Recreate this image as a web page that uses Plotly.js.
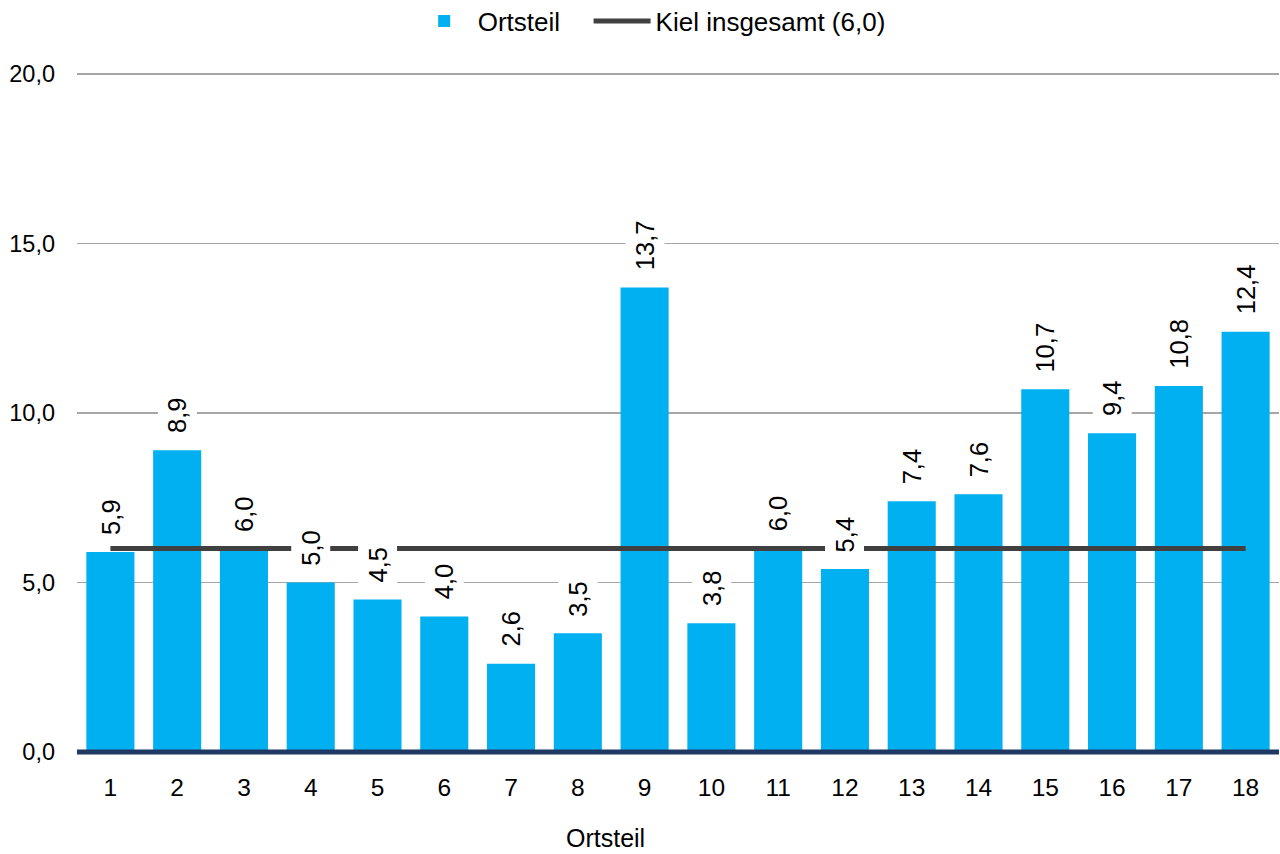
<!DOCTYPE html>
<html>
<head>
<meta charset="utf-8">
<script src="https://cdn.plot.ly/plotly-3.0.1.min.js"></script>
<style>html,body{margin:0;padding:0;background:#fff;}#chart{width:1280px;height:854px;}</style>
</head>
<body>
<div id="chart"></div>
<script>
const categories = ['1','2','3','4','5','6','7','8','9','10','11','12','13','14','15','16','17','18'];
const ortsteilValues = [5.9, 8.9, 6.0, 5.0, 4.5, 4.0, 2.6, 3.5, 13.7, 3.8, 6.0, 5.4, 7.4, 7.6, 10.7, 9.4, 10.8, 12.4];
const kielTotal = 6.0;
const kielValues = categories.map(() => kielTotal);
const seriesNames = ['Ortsteil', 'Kiel insgesamt (6,0)'];
const yTickValues = [0, 5, 10, 15, 20];
const xAxisTitle = 'Ortsteil';

const FONT = 'Liberation Sans, Arial, sans-serif';
const fmt = v => v.toFixed(1).replace('.', ',');

const traces = [
  {
    type: 'bar',
    name: seriesNames[0],
    x: categories,
    y: ortsteilValues,
    marker: {color: '#00b0f0'},
    legend: 'legend',
    hoverinfo: 'x+y'
  },
  {
    type: 'scatter',
    mode: 'lines',
    name: seriesNames[1],
    x: categories,
    y: kielValues,
    line: {color: '#404040', width: 5},
    legend: 'legend2',
    hoverinfo: 'y'
  }
];

const annotations = categories.map((c, i) => ({
  x: i,
  y: ortsteilValues[i],
  xref: 'x',
  yref: 'y',
  text: fmt(ortsteilValues[i]),
  showarrow: false,
  textangle: -90,
  yanchor: 'bottom',
  xanchor: 'center',
  yshift: 11,
  bgcolor: '#ffffff',
  borderpad: 5,
  font: {family: FONT, size: 25.5, color: '#000000'}
}));

annotations.push({
  xref: 'paper', yref: 'paper',
  x: 0.4397, y: -0.1267,
  xanchor: 'center', yanchor: 'middle',
  text: xAxisTitle,
  showarrow: false,
  font: {family: FONT, size: 25, color: '#000000'}
});

const legendBase = {
  orientation: 'h',
  xanchor: 'left',
  y: 1.0766,
  yanchor: 'middle',
  font: {family: FONT, size: 26, color: '#000000'},
  itemwidth: 57,
  bgcolor: 'rgba(0,0,0,0)'
};

const layout = {
  width: 1280,
  height: 854,
  margin: {l: 77, r: 1, t: 73, b: 102, pad: 0, autoexpand: false},
  paper_bgcolor: '#ffffff',
  plot_bgcolor: '#ffffff',
  font: {family: FONT, size: 23, color: '#000000'},
  separators: ',.',
  bargap: 0.28,
  showlegend: true,
  legend: Object.assign({}, legendBase, {x: 0.2776}),
  legend2: Object.assign({}, legendBase, {x: 0.4256}),
  xaxis: {
    type: 'category',
    range: [-0.5, categories.length - 0.5],
    tickfont: {family: FONT, size: 24.5, color: '#000000'},
    ticks: '',
    ticklabelstandoff: 18,
    showgrid: false,
    zeroline: false,
    showline: false,
    fixedrange: true
  },
  yaxis: {
    range: [0, 20.03],
    tickvals: yTickValues,
    tickformat: '.1f',
    tickfont: {family: FONT, size: 23.5, color: '#000000'},
    ticks: '',
    ticklabelstandoff: 21,
    showgrid: true,
    gridcolor: '#a6a6a6',
    gridwidth: 1.5,
    zeroline: false,
    showline: false,
    fixedrange: true
  },
  shapes: [
    {type: 'line', xref: 'paper', yref: 'paper', x0: 0, x1: 1, y0: 0, y1: 0,
     line: {color: '#1f3864', width: 5}, layer: 'above'}
  ],
  annotations: annotations
};

Plotly.newPlot('chart', traces, layout, {displayModeBar: false, staticPlot: true});
</script>
</body>
</html>
